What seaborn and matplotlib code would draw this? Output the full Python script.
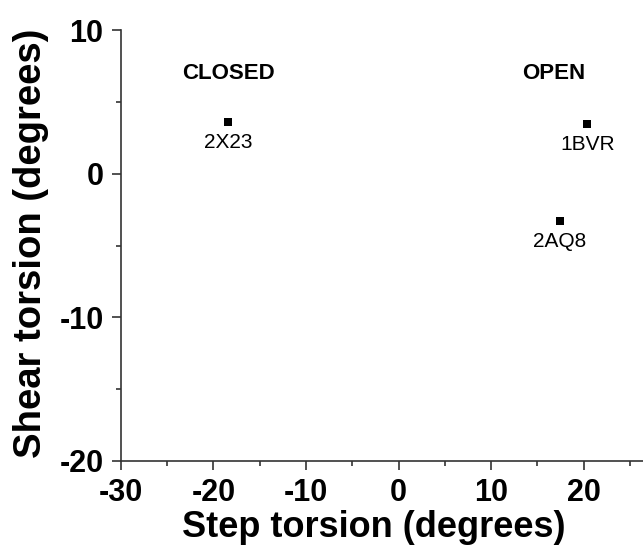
import pandas as pd
import seaborn as sns
import matplotlib.pyplot as plt
from matplotlib.ticker import MultipleLocator

# valeurs
structures = ['2X23', '1BVR', '2AQ8']
step_torsion = [-18.4, 20.4, 17.4]
shear_torsion = [3.6, 3.45, -3.3]
state_labels = ['CLOSED', 'OPEN']
state_x = [-18.4, 16.7]
state_y = [7.0, 7.0]

df = pd.DataFrame({'step': step_torsion, 'shear': shear_torsion, 'pdb': structures})

sns.set_style('ticks')
plt.rcParams['font.family'] = ['Liberation Sans', 'DejaVu Sans']
plt.rcParams['axes.unicode_minus'] = False
plt.rcParams['text.color'] = 'black'
plt.rcParams['axes.labelcolor'] = 'black'
plt.rcParams['xtick.color'] = 'black'
plt.rcParams['ytick.color'] = 'black'

fig = plt.figure(figsize=(6.43, 5.48), dpi=100)
ax = fig.add_axes([0.188, 0.159, 0.812, 0.786])

sns.scatterplot(data=df, x='step', y='shear', marker='s', s=40, color='black',
                edgecolor='black', linewidth=0, ax=ax)

# étiquettes des points, sous chaque marqueur
for px, py, name in zip(df['step'], df['shear'], df['pdb']):
    ax.text(px, py - 1.4, name, ha='center', va='center', fontsize=15)

for tx, ty, t in zip(state_x, state_y, state_labels):
    ax.text(tx, ty, t, ha='center', va='center', fontsize=16, fontweight='bold')

ax.set_xlim(-30, 26.4)
ax.set_ylim(-20, 10)
ax.xaxis.set_major_locator(MultipleLocator(10))
ax.xaxis.set_minor_locator(MultipleLocator(5))
ax.yaxis.set_major_locator(MultipleLocator(10))
ax.yaxis.set_minor_locator(MultipleLocator(5))

sns.despine(ax=ax)
for sp in ['left', 'bottom']:
    ax.spines[sp].set_color('#333333')
    ax.spines[sp].set_linewidth(1.2)

ax.tick_params(which='major', length=6.5, width=1.2, pad=6, labelsize=22, color='#333333')
ax.tick_params(which='minor', length=3.5, width=1.2, color='#333333')
for lbl in ax.get_xticklabels() + ax.get_yticklabels():
    lbl.set_fontweight('bold')

ax.set_xlabel('Step torsion (degrees)', fontsize=26, fontweight='bold')
ax.set_ylabel('Shear torsion (degrees)', fontsize=27.5, fontweight='bold')
ax.xaxis.set_label_coords(0.485, -0.114, transform=ax.transAxes)
ax.xaxis.label.set_va('top')
ax.yaxis.set_label_coords(-0.172, 0.506, transform=ax.transAxes)
ax.yaxis.label.set_va('center')

plt.savefig('out.png', dpi=100)
